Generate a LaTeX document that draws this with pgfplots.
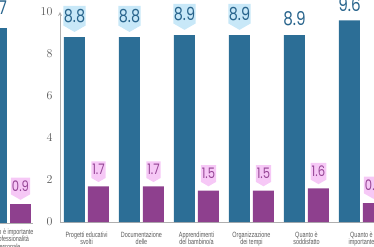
\documentclass[border=0pt]{standalone}
\usepackage{pgfplots}
\pgfplotsset{compat=1.18}
\usepackage{fontspec}
\usetikzlibrary{shapes.symbols}
\setmainfont{Liberation Sans}
\newfontfamily\condfont[FakeStretch=0.72]{Liberation Sans}
\newfontfamily\numfont[FakeStretch=0.8]{Poppins}
\definecolor{barblue}{RGB}{44,110,150}
\definecolor{barpurple}{RGB}{142,64,142}
\definecolor{callblue}{RGB}{200,232,248}
\definecolor{callpink}{RGB}{246,200,246}
\definecolor{txtblue}{RGB}{40,100,140}
\definecolor{txtpurple}{RGB}{150,70,150}
\definecolor{axgray}{RGB}{175,175,175}
\definecolor{lblgray}{RGB}{90,90,90}
\pgfplotsset{
  numlabel/.style={nodes near coords, point meta=explicit symbolic},
  bluecall/.style={numlabel, every node near coord/.append style={shape=signal, signal to=south, signal pointer angle=120, fill=callblue, text=txtblue, font=\numfont\fontsize{18}{18}\selectfont, inner xsep=0.5pt, inner ysep=3pt, anchor=south, yshift=5pt}},
  pinkcall/.style={numlabel, every node near coord/.append style={shape=signal, signal to=south, signal pointer angle=120, fill=callpink, text=txtpurple, font=\numfont\fontsize{14.5}{14.5}\selectfont, inner xsep=1pt, inner ysep=3pt, anchor=south, yshift=4pt}},
  blueplain/.style={numlabel, every node near coord/.append style={text=txtblue, font=\numfont\fontsize{19}{19}\selectfont, inner sep=1pt, anchor=south, yshift=8pt}},
  chartbase/.style={scale only axis, height=210pt, ymin=0, ymax=10, ybar, clip=false,
    axis x line=bottom, axis line style={draw=axgray, line width=0.8pt, -},
    major tick length=0pt,
    xticklabel style={font=\condfont\fontsize{7.6}{7.8}\selectfont, text=lblgray, align=center, anchor=north},
    yticklabel style={font=\condfont\fontsize{12}{12}\selectfont, text=lblgray},
  },
}
\begin{document}
\begin{tikzpicture}
\path[use as bounding box, clip] (0,0) rectangle (374pt,246pt);
% left (cropped) chart
\begin{axis}[chartbase, at={(33pt,23pt)}, anchor=south west, xshift=-107pt,
  width=107pt, xmin=-1.5, xmax=0.4455, axis y line=none, ytick=\empty,
  xtick={0}, xticklabels={Quanto è importante\\la professionalità\\personale},
  xticklabel style={yshift=-2pt}]
\addplot[fill=barblue, draw=none, bar width=21pt, bar shift=-12pt, blueplain, every node near coord/.append style={yshift=4pt}] coordinates {(0,9.3) [9.7]};
\addplot[fill=barpurple, draw=none, bar width=21pt, bar shift=12pt, pinkcall] coordinates {(0,0.9) [0.9]};
\end{axis}
% main chart
\begin{axis}[chartbase, at={(60pt,24pt)}, anchor=south west,
  width=314pt, xmin=-0.4818, xmax=5.2273, axis y line=left,
  ytick={0,2,4,6,8,10}, yticklabel style={xshift=-4pt},
  xtick={0,1,2,3,4,5}, xticklabel style={yshift=-6pt},
  xticklabels={Progetti educativi\\svolti, Documentazione\\delle, Apprendimenti\\del bambino/a, Organizzazione\\dei tempi, Quanto è\\soddisfatto, Quanto è\\importante}]
\addplot[fill=barblue, draw=none, bar width=21pt, bar shift=-12pt, bluecall] coordinates {(0,8.8) [8.8] (1,8.8) [8.8] (2,8.9) [8.9] (3,8.9) [8.9]};
\addplot[fill=barblue, draw=none, bar width=21pt, bar shift=-12pt, blueplain] coordinates {(4,8.9) [8.9] (5,9.6) [9.6]};
\addplot[fill=barpurple, draw=none, bar width=21pt, bar shift=12pt, pinkcall] coordinates {(0,1.7) [1.7] (1,1.7) [1.7] (2,1.5) [1.5] (3,1.5) [1.5] (4,1.6) [1.6] (5,0.9) [0.9]};
\end{axis}
\end{tikzpicture}
\end{document}
